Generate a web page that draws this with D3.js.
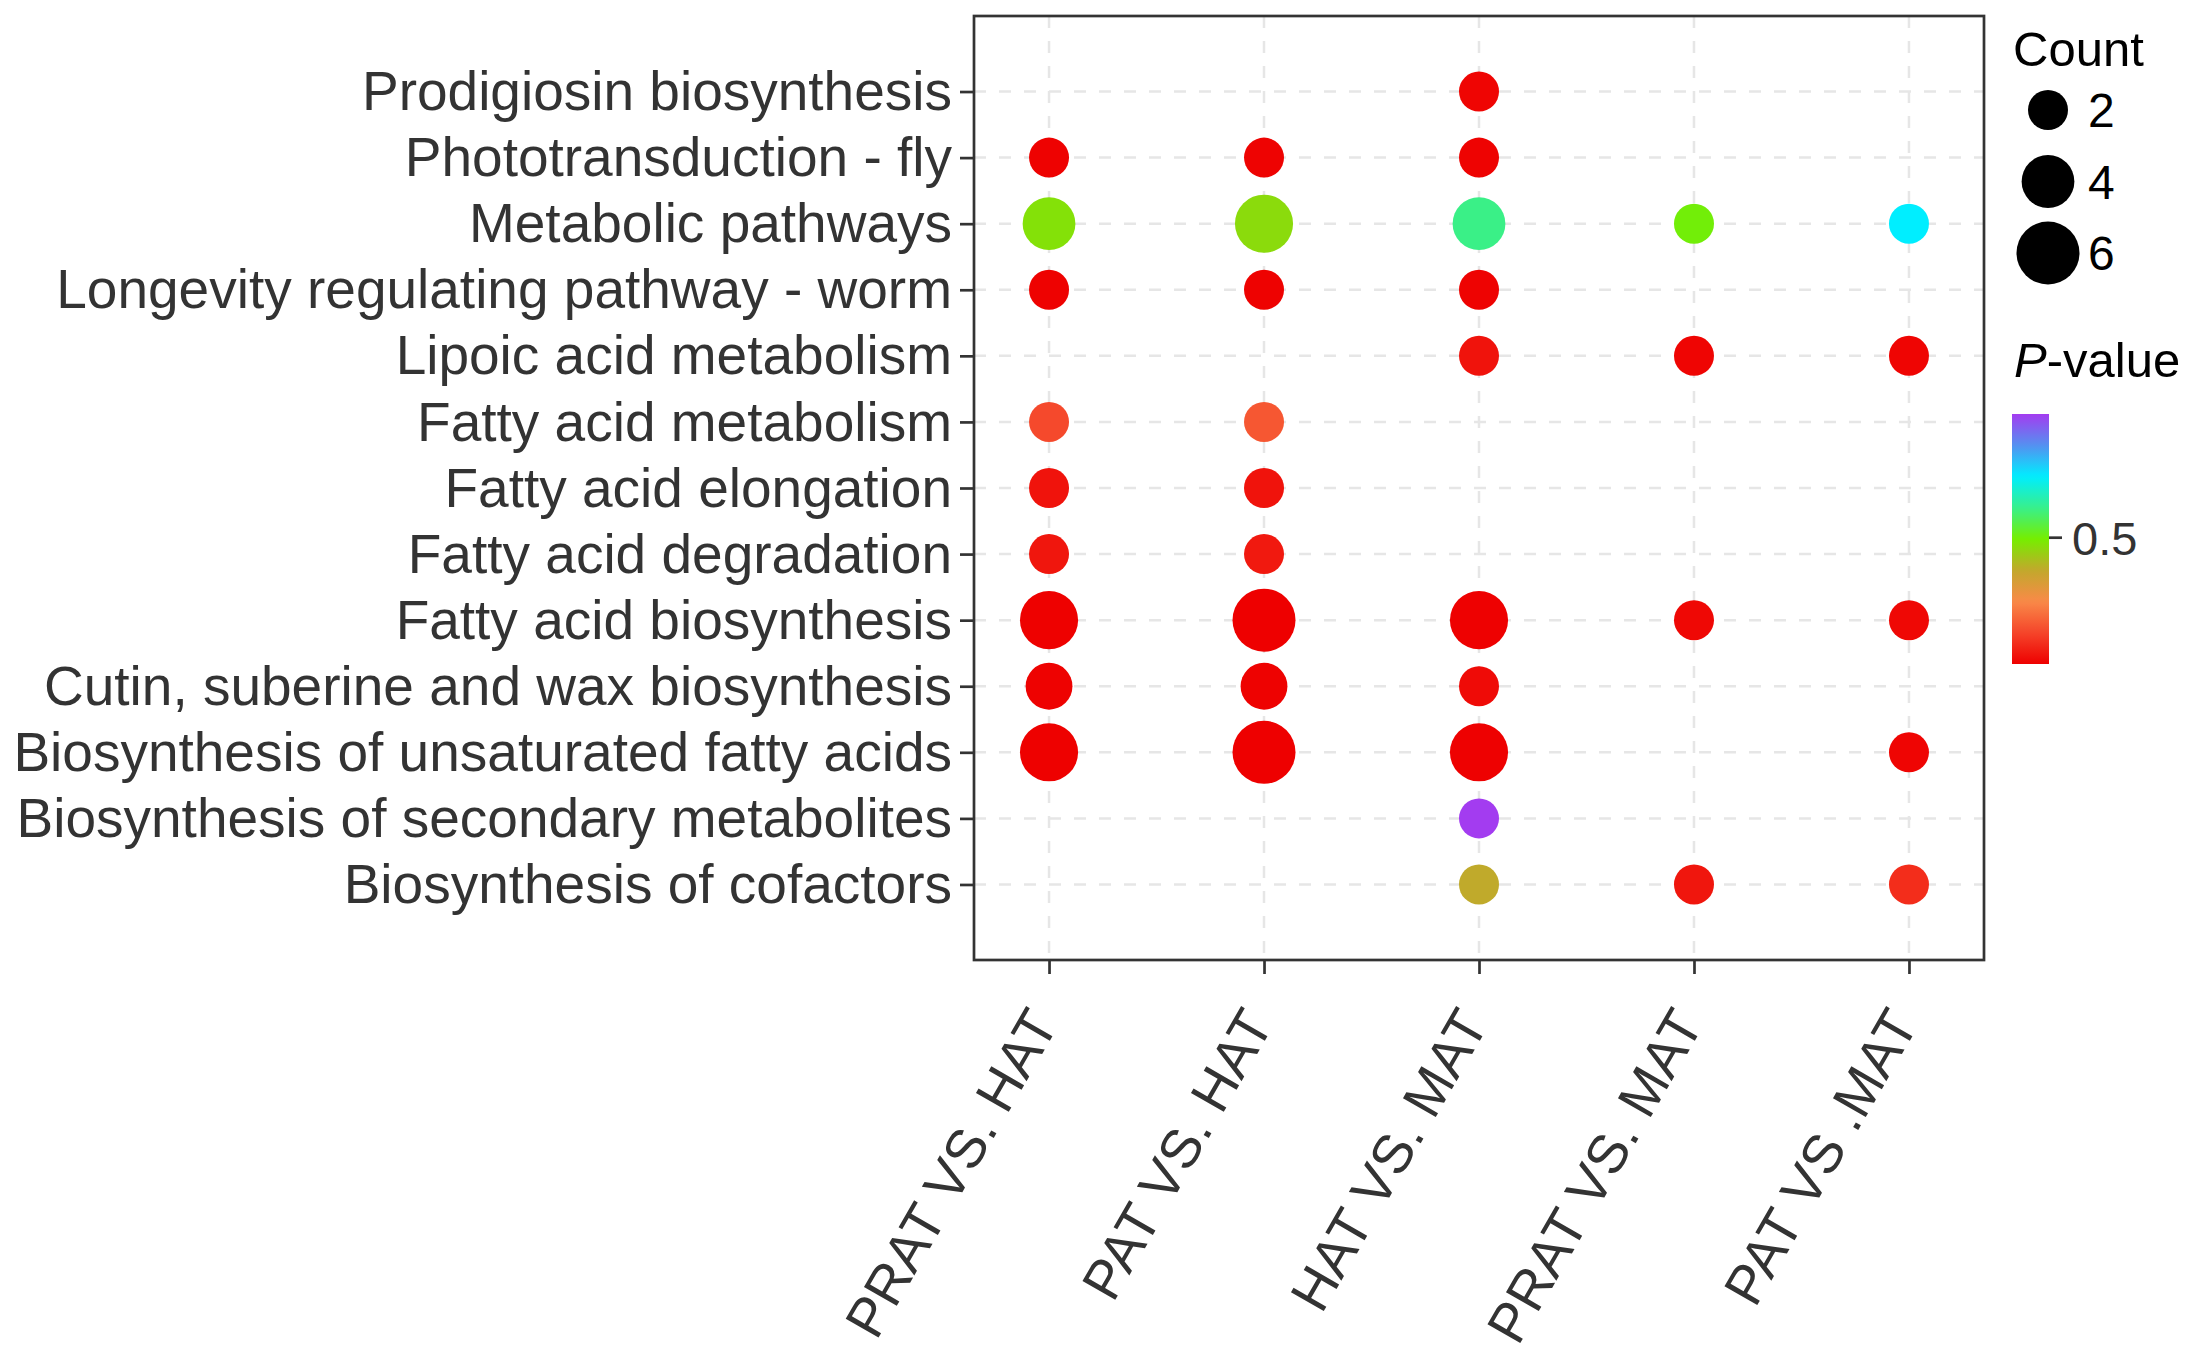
<!DOCTYPE html>
<html>
<head>
<meta charset="utf-8">
<script src="https://cdn.jsdelivr.net/npm/d3@7"></script>
<style>
  html, body { margin: 0; padding: 0; background: #fff; }
  svg { display: block; font-family: "Liberation Sans", Arial, Helvetica, sans-serif; }
</style>
</head>
<body>
<svg id="chart" width="2196" height="1365"></svg>
<script>
// ---------------- data ----------------
const pathways = [
  "Prodigiosin biosynthesis",
  "Phototransduction - fly",
  "Metabolic pathways",
  "Longevity regulating pathway - worm",
  "Lipoic acid metabolism",
  "Fatty acid metabolism",
  "Fatty acid elongation",
  "Fatty acid degradation",
  "Fatty acid biosynthesis",
  "Cutin, suberine and wax biosynthesis",
  "Biosynthesis of unsaturated fatty acids",
  "Biosynthesis of secondary metabolites",
  "Biosynthesis of cofactors"
];
const comparisons = ["PRAT VS. HAT", "PAT VS. HAT", "HAT VS. MAT", "PRAT VS. MAT", "PAT VS .MAT"];

// counts per comparison, in pathway order (null = not enriched)
const countPRAT_HAT = [null, 2, 4, 2, null, 2, 2, 2, 5, 3, 5, null, null];
const countPAT_HAT  = [null, 2, 5, 2, null, 2, 2, 2, 6, 3, 6, null, null];
const countHAT_MAT  = [2, 2, 4, 2, 2, null, null, null, 5, 2, 5, 2, 2];
const countPRAT_MAT = [null, null, 2, null, 2, null, null, null, 2, null, null, null, 2];
const countPAT_MAT  = [null, null, 2, null, 2, null, null, null, 2, null, 2, null, 2];

// p-values per comparison, in pathway order
const pPRAT_HAT = [null, 0.010, 0.47, 0.010, null, 0.135, 0.04, 0.045, 0.007, 0.010, 0.007, null, null];
const pPAT_HAT  = [null, 0.012, 0.46, 0.010, null, 0.16, 0.04, 0.05, 0.006, 0.010, 0.006, null, null];
const pHAT_MAT  = [0.015, 0.012, 0.61, 0.012, 0.04, null, null, null, 0.008, 0.025, 0.008, 0.98, 0.375];
const pPRAT_MAT = [null, null, 0.50, null, 0.015, null, null, null, 0.02, null, null, null, 0.045];
const pPAT_MAT  = [null, null, 0.736, null, 0.015, null, null, null, 0.02, null, 0.015, null, 0.085];

const countLegendValues = [2, 4, 6];
const pTickValues = [0.5];
const pColours = ["#EE0000", "#F5452A", "#F98A48", "#C2A82C", "#76EE00", "#38F08C", "#00EEFF", "#5590F0", "#A33CF0"];

// ---------------- build table ----------------
const countCols = [countPRAT_HAT, countPAT_HAT, countHAT_MAT, countPRAT_MAT, countPAT_MAT];
const pCols = [pPRAT_HAT, pPAT_HAT, pHAT_MAT, pPRAT_MAT, pPAT_MAT];
const points = [];
comparisons.forEach((c, ci) => {
  pathways.forEach((p, pi) => {
    const n = countCols[ci][pi];
    if (n != null) points.push({comparison: c, pathway: p, count: n, p: pCols[ci][pi]});
  });
});

// ---------------- layout ----------------
const panel = {left: 974, right: 1984, top: 16, bottom: 960};
const svg = d3.select("#chart");

const x = d3.scalePoint().domain(comparisons).range([panel.left, panel.right]).padding(0.349);
const y = d3.scalePoint().domain(pathways).range([panel.top, panel.bottom]).padding(1.143);

const area = d3.scaleLinear().domain([2, 6]).range([20 * 20, 31.5 * 31.5]);
const radius = c => Math.sqrt(area(c));

const pExtent = d3.extent(points, d => d.p);
const stopPos = pColours.map((_, i) => pExtent[0] + (pExtent[1] - pExtent[0]) * i / (pColours.length - 1));
const color = d3.scaleLinear().domain(stopPos).range(pColours).interpolate(d3.interpolateRgb);

const axisColor = "#333333";
const fontSize = 55;

// grid lines
const grid = svg.append("g").attr("stroke", "#E6E6E6").attr("stroke-width", 2.5).attr("stroke-dasharray", "12,13");
grid.selectAll("line.h").data(pathways).join("line")
  .attr("x1", panel.left).attr("x2", panel.right)
  .attr("y1", d => y(d)).attr("y2", d => y(d));
grid.selectAll("line.v").data(comparisons).join("line")
  .attr("y1", panel.top).attr("y2", panel.bottom)
  .attr("x1", d => x(d)).attr("x2", d => x(d));

// points
svg.append("g").selectAll("circle").data(points).join("circle")
  .attr("cx", d => x(d.comparison))
  .attr("cy", d => y(d.pathway))
  .attr("r", d => radius(d.count))
  .attr("fill", d => color(d.p));

// panel border
svg.append("rect")
  .attr("x", panel.left).attr("y", panel.top)
  .attr("width", panel.right - panel.left).attr("height", panel.bottom - panel.top)
  .attr("fill", "none").attr("stroke", axisColor).attr("stroke-width", 2.7);

// y axis
const yAxis = d3.axisLeft(y).tickSize(14).tickPadding(8);
const gy = svg.append("g").attr("transform", `translate(${panel.left},0)`).call(yAxis);
gy.select(".domain").remove();
gy.selectAll(".tick line").attr("stroke", axisColor).attr("stroke-width", 2.7);
gy.selectAll(".tick text")
  .attr("fill", axisColor).attr("font-size", fontSize)
  .attr("font-family", "Liberation Sans, Arial, sans-serif")
  .attr("dy", "0.33em");

// x axis
const xAxis = d3.axisBottom(x).tickSize(14);
const gx = svg.append("g").attr("transform", `translate(0,${panel.bottom})`).call(xAxis);
gx.select(".domain").remove();
gx.selectAll(".tick line").attr("stroke", axisColor).attr("stroke-width", 2.7);
gx.selectAll(".tick text")
  .attr("fill", axisColor).attr("font-size", fontSize)
  .attr("font-family", "Liberation Sans, Arial, sans-serif")
  .attr("text-anchor", "end")
  .attr("dy", 0).attr("y", 0)
  .attr("transform", "translate(10,64) rotate(-60)");

// ---------------- legend: Count ----------------
const leg = svg.append("g");
leg.append("text").attr("x", 2013).attr("y", 66)
  .attr("font-size", 49).attr("fill", "#000").text("Count");
const legY = d3.scalePoint().domain(countLegendValues).range([110, 253]);
leg.selectAll("circle").data(countLegendValues).join("circle")
  .attr("cx", 2048).attr("cy", d => legY(d)).attr("r", d => radius(d)).attr("fill", "#000");
leg.selectAll("text.lab").data(countLegendValues).join("text")
  .attr("class", "lab")
  .attr("x", 2088).attr("y", d => legY(d)).attr("dy", "0.36em")
  .attr("font-size", 48).attr("fill", "#000").text(d => d);

// ---------------- legend: P-value ----------------
const pt = leg.append("text").attr("x", 2014).attr("y", 377).attr("font-size", 49).attr("fill", "#000");
pt.append("tspan").attr("font-style", "italic").text("P");
pt.append("tspan").text("-value");

const bar = {x: 2012, w: 37, top: 414, bottom: 664};
const barScale = d3.scaleLinear().domain(pExtent).range([bar.bottom, bar.top]);
const defs = svg.append("defs");
const grad = defs.append("linearGradient").attr("id", "pgrad")
  .attr("x1", 0).attr("y1", 1).attr("x2", 0).attr("y2", 0);
d3.range(0, 1.0001, 0.02).forEach(t => {
  grad.append("stop").attr("offset", t)
    .attr("stop-color", color(pExtent[0] + t * (pExtent[1] - pExtent[0])));
});
leg.append("rect").attr("x", bar.x).attr("y", bar.top)
  .attr("width", bar.w).attr("height", bar.bottom - bar.top).attr("fill", "url(#pgrad)");
const barAxis = d3.axisRight(barScale).tickValues(pTickValues).tickSize(13).tickPadding(10).tickFormat(d3.format(".1f"));
const gb = leg.append("g").attr("transform", `translate(${bar.x + bar.w},0)`).call(barAxis);
gb.select(".domain").remove();
gb.selectAll(".tick line").attr("stroke", axisColor).attr("stroke-width", 2.7);
gb.selectAll(".tick text").attr("fill", axisColor).attr("font-size", 47)
  .attr("font-family", "Liberation Sans, Arial, sans-serif").attr("dy", "0.36em");
</script>
</body>
</html>
